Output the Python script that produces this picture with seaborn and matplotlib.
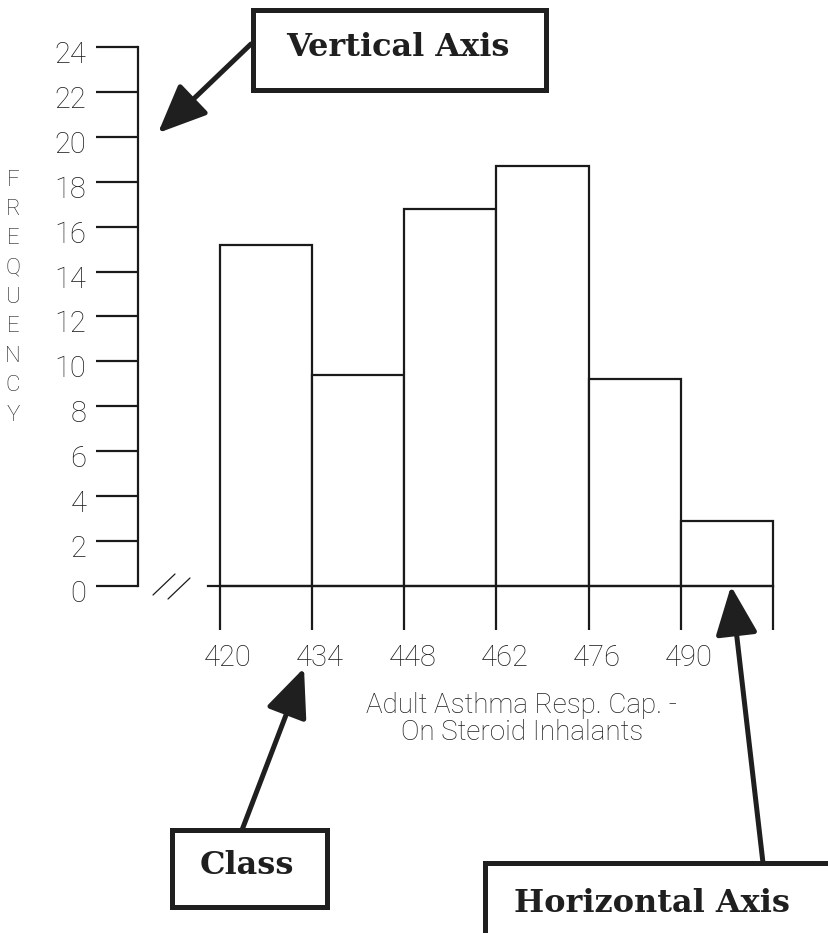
import numpy as np
import pandas as pd
import seaborn as sns
import matplotlib.pyplot as plt
from matplotlib.patches import Rectangle, FancyArrowPatch
from matplotlib.lines import Line2D
from matplotlib.transforms import ScaledTranslation

# Set style
sns.set_style("ticks")
plt.rcParams['font.family'] = ['Roboto', 'DejaVu Sans']
plt.rcParams['font.weight'] = 'light'

# Data
class_edges = [420, 434, 448, 462, 476, 490, 504]
class_lower = [420, 434, 448, 462, 476, 490]
frequency = [15.2, 9.4, 16.8, 18.7, 9.2, 2.9]
x_tick_labels = ['420', '434', '448', '462', '476', '490', '']
y_ticks = list(range(0, 25, 2))

data = pd.DataFrame({'resp_cap': class_lower, 'freq': frequency})

W, H = 829, 933
fig = plt.figure(figsize=(W / 100, H / 100), dpi=100)
ax = fig.add_axes([0, 0, 1, 1])
ax.patch.set_alpha(0)

# Histogram from class counts
sns.histplot(data=data, x='resp_cap', weights='freq', bins=class_edges,
             color='white', edgecolor='#1a1a1a', linewidth=1.6, alpha=1, ax=ax)

# Scale so the drawing fills the page like the original sheet
ax.set_xlim(386.58, 512.51)
ax.set_ylim(-15.45, 26.09)

for s in ['top', 'right']:
    ax.spines[s].set_visible(False)
ax.spines['left'].set_position(('data', 407.5))
ax.spines['left'].set_bounds(0, 24)
ax.spines['bottom'].set_position(('data', 0))
ax.spines['bottom'].set_bounds(418.2, 504)
for s in ['left', 'bottom']:
    ax.spines[s].set_linewidth(1.6)
    ax.spines[s].set_color('#1a1a1a')

ax.set_yticks(y_ticks)
ax.set_yticklabels([str(v) for v in y_ticks])
ax.set_xticks(class_edges)
ax.set_xticklabels(x_tick_labels)
ax.tick_params(axis='y', direction='out', length=30, width=1.6, pad=7,
               labelsize=21, colors='#1a1a1a', labelcolor='#1e1e1e')
ax.tick_params(axis='x', direction='out', length=32, width=1.6, pad=10,
               labelsize=21, colors='#1a1a1a', labelcolor='#1e1e1e')
for lbl in ax.get_xticklabels():
    lbl.set_transform(lbl.get_transform() + ScaledTranslation(0.08, 0, fig.dpi_scale_trans))
for lbl in ax.get_yticklabels():
    lbl.set_transform(lbl.get_transform() + ScaledTranslation(0, -0.05, fig.dpi_scale_trans))
ax.set_xlabel('')
ax.set_ylabel('')


def px(x, y):
    return (x / W, 1 - y / H)


# Axis break marks
for x0, y0 in [(153, 595), (168, 599)]:
    fig.add_artist(Line2D([x0 / W, (x0 + 22) / W], [1 - y0 / H, 1 - (y0 - 21) / H],
                          color='#1a1a1a', lw=0.9))

# Vertical stacked y label
for i, ch in enumerate('FREQUENCY'):
    fig.text(*px(13, 180 + i * 29.4), ch, ha='center', va='center',
             fontsize=16, color='#1e1e1e')

# X axis title
fig.text(*px(522, 719), 'Adult Asthma Resp. Cap. -\nOn Steroid Inhalants',
         ha='center', va='center', fontsize=20, color='#1e1e1e', linespacing=1.0)

# Callout boxes
def callout(x0, y0, x1, y1, text, tx, ty):
    (fx0, fy1), (fx1, fy0) = px(x0, y0), px(x1, y1)
    fig.add_artist(Rectangle((fx0, fy0), fx1 - fx0, fy1 - fy0, transform=fig.transFigure,
                             facecolor='white', edgecolor='#1f1f1f', lw=3.6, zorder=5))
    fig.text(*px(tx, ty), text, ha='center', va='center', fontsize=23,
             fontweight='bold', family='DejaVu Serif', color='#1f1f1f', zorder=6)


def arrow(tail, tip):
    fig.add_artist(FancyArrowPatch(px(*tail), px(*tip), transform=fig.transFigure,
                                   arrowstyle='-|>,head_length=30,head_width=13',
                                   mutation_scale=1, lw=3.6, color='#1f1f1f',
                                   shrinkA=0, shrinkB=0, zorder=4))


callout(253, 10, 546, 90, 'Vertical Axis', 398, 47)
arrow((251, 44), (158, 133))
callout(172, 830, 327, 907, 'Class', 247, 866)
arrow((242, 830), (304, 668))
callout(485, 863, 860, 960, 'Horizontal Axis', 652, 903)
arrow((763, 863), (731, 586))

fig.savefig('out.png', dpi=100)
